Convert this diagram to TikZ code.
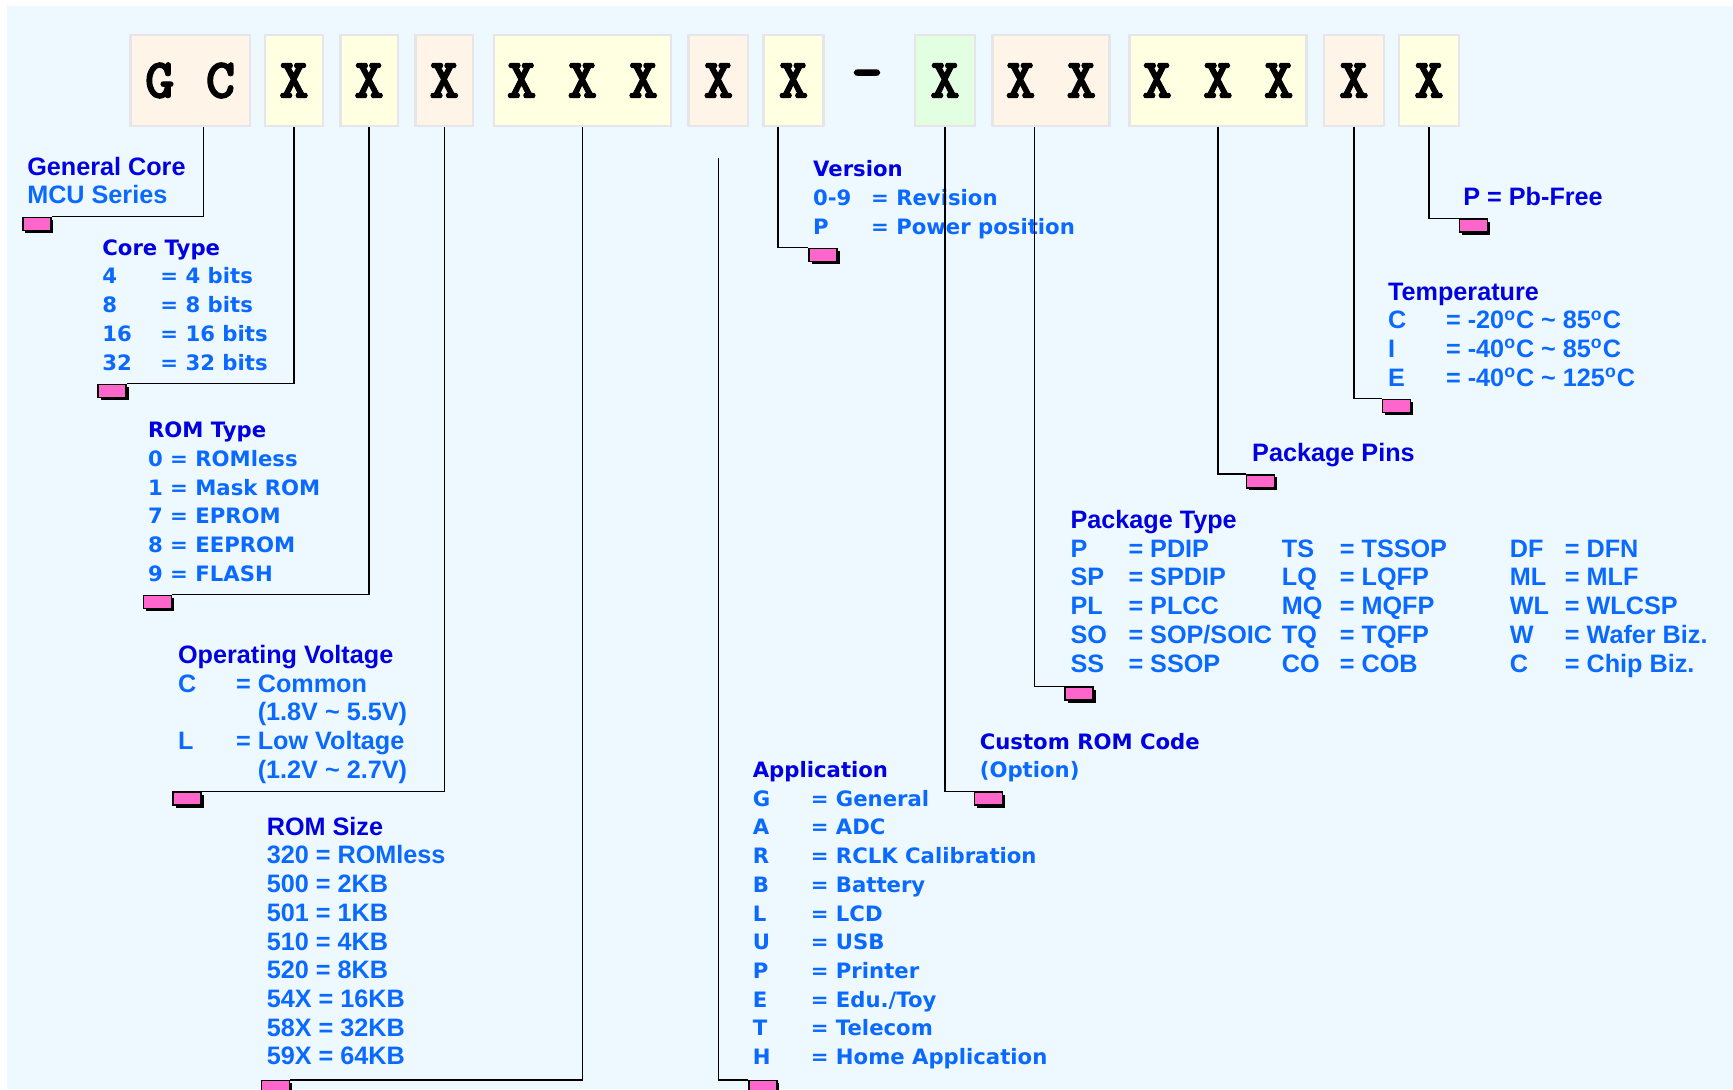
\documentclass[tikz,border=0pt]{standalone}
\usepackage{fontspec}
\setmainfont{Liberation Sans}
\newfontfamily\widefont{DejaVu Sans}
\newfontfamily\boxfont[FakeBold=2.2]{lmmonolt10-bold.otf}
\usepackage{tikz}
\usetikzlibrary{calc,shadows,positioning}

\definecolor{bgblue}{RGB}{238,248,255}
\definecolor{peach}{RGB}{255,244,232}
\definecolor{lemon}{RGB}{255,255,226}
\definecolor{mint}{RGB}{226,255,226}
\definecolor{boxgray}{RGB}{230,230,234}
\definecolor{pinkm}{RGB}{255,102,204}
\definecolor{hdblue}{RGB}{0,0,225}
\definecolor{itblue}{RGB}{10,105,255}

\newcommand\keycol[1]{\makebox[29pt][l]{#1}}
\newcommand\dgC{\textsuperscript{o}C}
\newcommand\gp{\hspace{15.7pt}}

\tikzset{
  %% part-number digit boxes
  digit/.style={draw=boxgray, line width=1.2pt, minimum height=45.5pt, inner sep=0pt,
    font=\boxfont\fontsize{28}{28}\selectfont},
  dPeach/.style={digit, fill=peach},
  dLemon/.style={digit, fill=lemon},
  dMint/.style={digit, fill=mint},
  %% leader lines and pink tags
  lead/.style={draw=black, line width=0.7pt},
  pinbox/.style={draw=black, fill=pinkm, line width=0.8pt, anchor=north west, inner sep=0pt,
    minimum width=14pt, minimum height=6.5pt,
    drop shadow={shadow xshift=1.2pt, shadow yshift=-1.2pt, fill=black, opacity=1}},
  %% legend texts
  wideTxt/.style={anchor=base west, inner sep=0pt, text=itblue,
    font=\widefont\bfseries\fontsize{10.6}{14.35}\selectfont},
  narrowTxt/.style={anchor=base west, inner sep=0pt, text=itblue,
    font=\bfseries\fontsize{12.6}{14.35}\selectfont},
}

\begin{document}
\begin{tikzpicture}[x=0.5pt, y=-0.5pt]
\useasboundingbox (0,0) rectangle (1733,1089);
\fill[white] (0,0) rectangle (1733,1089);
\fill[bgblue] (7,6) rectangle (1733,1089);

%% digit boxes
\node[dPeach, minimum width=59.7pt] (bGC) at (190.1,80.5) {G\gp C};
\node[dLemon, minimum width=28.75pt] (bA) at (294,80.5) {X};
\node[dLemon, minimum width=28.75pt] (bB) at (369.1,80.5) {X};
\node[dPeach, minimum width=28.75pt] (bC) at (444.3,80.5) {X};
\node[dLemon, minimum width=88.45pt] (bD) at (582.5,80.5) {X\gp X\gp X};
\node[dPeach, minimum width=29.85pt] (bE) at (718.4,80.5) {X};
\node[dLemon, minimum width=29.85pt] (bF) at (793.5,80.5) {X};
\node[font=\boxfont\fontsize{30}{30}\selectfont, inner sep=0pt] (dash) at (867,80.5) {-};
\node[dMint, minimum width=29.85pt] (bG) at (945,80.5) {X};
\node[dPeach, minimum width=58.55pt] (bH) at (1051,80.5) {X\gp X};
\node[dLemon, minimum width=88.4pt] (bI) at (1217.9,80.5) {X\gp X\gp X};
\node[dPeach, minimum width=29.85pt] (bJ) at (1353.9,80.5) {X};
\node[dLemon, minimum width=29.85pt] (bK) at (1429,80.5) {X};

%% legends
\node[narrowTxt] (tGC) at (26.9,175.2) {\begin{tabular}[t]{@{}l@{}}
  \textcolor{hdblue}{General Core}\\ MCU Series\end{tabular}};
\node[wideTxt] (tA) at (102,255.2) {\begin{tabular}[t]{@{}l@{}}
  \textcolor{hdblue}{Core Type}\\ \keycol{4}= 4 bits\\ \keycol{8}= 8 bits\\
  \keycol{16}= 16 bits\\ \keycol{32}= 32 bits\end{tabular}};
\node[wideTxt] (tB) at (147.7,437.8) {\begin{tabular}[t]{@{}l@{}}
  \textcolor{hdblue}{ROM Type}\\ 0 = ROMless\\ 1 = Mask ROM\\ 7 = EPROM\\
  8 = EEPROM\\ 9 = FLASH\end{tabular}};
\node[narrowTxt] (tC) at (177.7,663.5) {\begin{tabular}[t]{@{}l@{}}
  \textcolor{hdblue}{Operating Voltage}\\ \keycol{C}= Common\\
  \keycol{}\phantom{= }(1.8V \textasciitilde{} 5.5V)\\ \keycol{L}= Low Voltage\\
  \keycol{}\phantom{= }(1.2V \textasciitilde{} 2.7V)\end{tabular}};
\node[narrowTxt] (tD) at (266.5,835.2) {\begin{tabular}[t]{@{}l@{}}
  \textcolor{hdblue}{ROM Size}\\ 320 = ROMless\\ 500 = 2KB\\ 501 = 1KB\\ 510 = 4KB\\
  520 = 8KB\\ 54X = 16KB\\ 58X = 32KB\\ 59X = 64KB\end{tabular}};
\node[wideTxt] (tE) at (752.4,777.5) {\begin{tabular}[t]{@{}l@{}}
  \textcolor{hdblue}{Application}\\ \keycol{G}= General\\ \keycol{A}= ADC\\
  \keycol{R}= RCLK Calibration\\ \keycol{B}= Battery\\ \keycol{L}= LCD\\
  \keycol{U}= USB\\ \keycol{P}= Printer\\ \keycol{E}= Edu./Toy\\
  \keycol{T}= Telecom\\ \keycol{H}= Home Application\end{tabular}};
\node[wideTxt] (tF) at (812.7,176.8) {\begin{tabular}[t]{@{}l@{}}
  \textcolor{hdblue}{Version}\\ \keycol{0-9}= Revision\\ \keycol{P}= Power position\end{tabular}};
\node[wideTxt] (tG) at (979.4,749.2) {\begin{tabular}[t]{@{}l@{}}
  \textcolor{hdblue}{Custom ROM Code}\\ (Option)\end{tabular}};
\node[narrowTxt] (tH) at (1070.1,528.5) {\begin{tabular}[t]{@{}l@{}}
  \textcolor{hdblue}{Package Type}\\
  \makebox[105.7pt][l]{\keycol{P}= PDIP}\makebox[114pt][l]{\keycol{TS}= TSSOP}\makebox[27.5pt][l]{DF}= DFN\\
  \makebox[105.7pt][l]{\keycol{SP}= SPDIP}\makebox[114pt][l]{\keycol{LQ}= LQFP}\makebox[27.5pt][l]{ML}= MLF\\
  \makebox[105.7pt][l]{\keycol{PL}= PLCC}\makebox[114pt][l]{\keycol{MQ}= MQFP}\makebox[27.5pt][l]{WL}= WLCSP\\
  \makebox[105.7pt][l]{\keycol{SO}= SOP/SOIC}\makebox[114pt][l]{\keycol{TQ}= TQFP}\makebox[27.5pt][l]{W}= Wafer Biz.\\
  \makebox[105.7pt][l]{\keycol{SS}= SSOP}\makebox[114pt][l]{\keycol{CO}= COB}\makebox[27.5pt][l]{C}= Chip Biz.\end{tabular}};
\node[narrowTxt, text=hdblue] (tI) at (1251.8,461.8) {Package Pins};
\node[narrowTxt] (tJ) at (1387.7,300.2) {\begin{tabular}[t]{@{}l@{}}
  \textcolor{hdblue}{Temperature}\\ \keycol{C}= -20\dgC{} \textasciitilde{} 85\dgC\\
  \keycol{I}= -40\dgC{} \textasciitilde{} 85\dgC\\ \keycol{E}= -40\dgC{} \textasciitilde{} 125\dgC\end{tabular}};
\node[narrowTxt, text=hdblue] (tK) at (1463,205.2) {P = Pb-Free};

%% pink tags
\node[pinbox] (mGC) at (22.1,216.6) {};
\node[pinbox] (mA) at (97.3,383.5) {};
\node[pinbox] (mB) at (142.6,594.6) {};
\node[pinbox] (mC) at (172.4,791.3) {};
\node[pinbox] (mD) at (260.8,1079.8) {};
\node[pinbox] (mE) at (748.2,1079.8) {};
\node[pinbox] (mF) at (808.3,247.7) {};
\node[pinbox] (mG) at (973.7,791.3) {};
\node[pinbox] (mH) at (1064.3,686.3) {};
\node[pinbox] (mI) at (1245.6,474.1) {};
\node[pinbox] (mJ) at (1381.5,398.5) {};
\node[pinbox] (mK) at (1458.5,218.3) {};

%% leader lines
\coordinate (appTop) at ($(bE.south)+(0,31)$);
\draw[lead] ($(bGC.south)+(13.3,0)$) |- (mGC.north east);
\draw[lead] (bA.south) |- (mA.north east);
\draw[lead] (bB.south) |- (mB.north east);
\draw[lead] (bC.south) |- (mC.north east);
\draw[lead] (bD.south) |- (mD.north east);
\draw[lead] (appTop) |- (mE.north west);
\draw[lead] ($(bF.south)+(-15.4,0)$) |- (mF.north west);
\draw[lead] (bG.south) |- (mG.north west);
\draw[lead] ($(bH.south)+(-16.5,0)$) |- (mH.north west);
\draw[lead] (bI.south) |- (mI.north west);
\draw[lead] (bJ.south) |- (mJ.north west);
\draw[lead] (bK.south) |- (mK.north west);

\end{tikzpicture}
\end{document}
